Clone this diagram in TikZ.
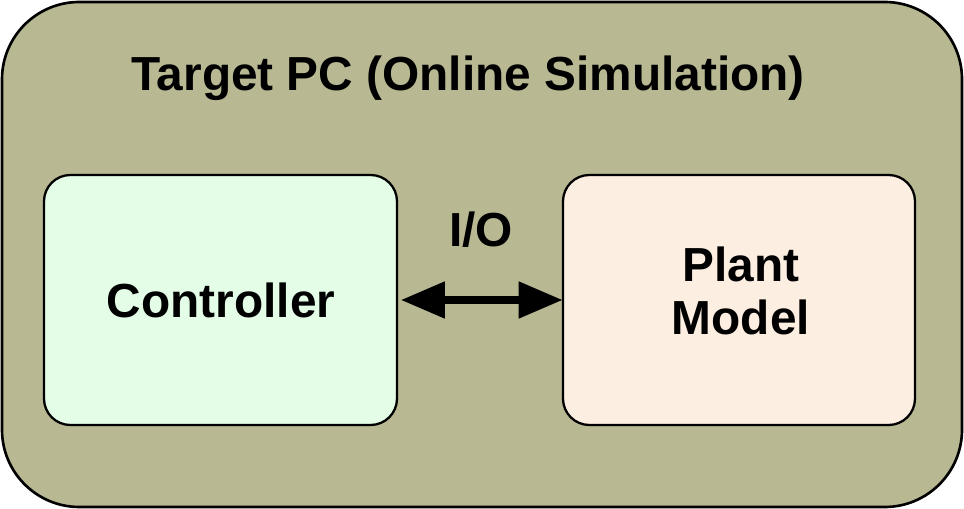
\documentclass[tikz,border=0pt]{standalone}
\usepackage{fontspec}
\setmainfont{Liberation Sans}
\usetikzlibrary{arrows.meta}
\definecolor{outerfill}{HTML}{B8B893}
\definecolor{ctrlfill}{HTML}{E3FDE7}
\definecolor{plantfill}{HTML}{FDEEE2}
\tikzset{
  lbl/.style={font=\fontsize{27.2}{30.5}\selectfont\bfseries, text=black, align=center},
  blockbox/.style={draw=black, line width=1.3pt, rounded corners=15pt},
}
\begin{document}
\begin{tikzpicture}[x=0.02cm,y=-0.02cm]
\useasboundingbox (0,0) rectangle (964,509);
\draw[fill=outerfill, line width=1.5pt, rounded corners=44pt] (2,2) rectangle (962,507);
\node[lbl] (title) at (468,78) {Target PC (Online Simulation)};
\draw[blockbox, fill=ctrlfill] (44,175) rectangle (397,425);
\node (ctrl) [minimum width=353*0.02cm, minimum height=250*0.02cm, inner sep=0pt] at (220.5,300) {};
\node[lbl] at (221,300) {Controller};
\draw[blockbox, fill=plantfill] (563,175) rectangle (915,425);
\node (plant) [minimum width=352*0.02cm, minimum height=250*0.02cm, inner sep=0pt] at (739,300) {};
\node[lbl, text width=8cm] at (741,291) {Plant\\Model};
\node[lbl] (io) at (481,230) {I/O};
\draw[line width=4.2pt, {Triangle[length=25pt,width=20pt]}-{Triangle[length=25pt,width=20pt]}]
  ([xshift=2pt]ctrl.east) -- (plant.west);
\end{tikzpicture}
\end{document}
